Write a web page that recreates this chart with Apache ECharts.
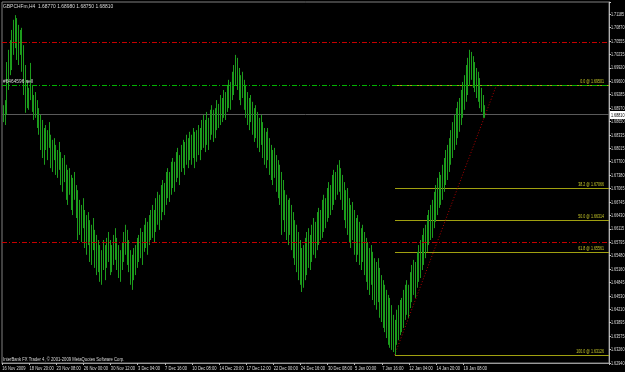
<!DOCTYPE html>
<html><head><meta charset="utf-8">
<script src="https://cdn.jsdelivr.net/npm/echarts/dist/echarts.min.js"></script>
<style>html,body{margin:0;padding:0;background:#000;}#c{width:625px;height:372px;}</style>
</head><body><div id="c"></div>
<script>
// ---- data (GBPCHF H4 bars: low / high) ----
const barLow = [1.6864,1.6857,1.6881,1.6940,1.6975,1.6987,1.7023,1.7039,1.7011,1.6999,
1.7023,1.6983,1.6928,1.6886,1.6897,1.6893,1.6916,1.6888,1.6869,1.6874,
1.6850,1.6834,1.6798,1.6779,1.6763,1.6798,1.6774,1.6803,1.6755,1.6746,
1.6774,1.6739,1.6732,1.6751,1.6715,1.6699,1.6722,1.6680,1.6668,1.6692,
1.6656,1.6644,1.6680,1.6637,1.6585,1.6597,1.6580,1.6613,1.6566,1.6550,
1.6573,1.6533,1.6526,1.6561,1.6519,1.6502,1.6509,1.6486,1.6479,1.6514,
1.6490,1.6519,1.6533,1.6502,1.6509,1.6526,1.6538,1.6514,1.6495,1.6486,
1.6514,1.6533,1.6550,1.6526,1.6509,1.6479,1.6467,1.6490,1.6502,1.6519,
1.6533,1.6542,1.6526,1.6557,1.6566,1.6550,1.6573,1.6585,1.6590,1.6580,
1.6604,1.6621,1.6609,1.6632,1.6651,1.6644,1.6668,1.6684,1.6675,1.6692,
1.6708,1.6699,1.6722,1.6732,1.6715,1.6746,1.6755,1.6739,1.6763,1.6755,
1.6774,1.6763,1.6779,1.6755,1.6770,1.6786,1.6774,1.6798,1.6803,1.6793,
1.6810,1.6798,1.6822,1.6834,1.6817,1.6826,1.6845,1.6850,1.6857,1.6864,
1.6874,1.6869,1.6888,1.6897,1.6893,1.6916,1.6928,1.6952,1.6940,1.6916,
1.6904,1.6921,1.6893,1.6874,1.6857,1.6845,1.6864,1.6834,1.6817,1.6826,
1.6803,1.6793,1.6810,1.6779,1.6763,1.6755,1.6774,1.6739,1.6727,1.6715,
1.6732,1.6699,1.6684,1.6668,1.6597,1.6632,1.6604,1.6585,1.6573,1.6597,
1.6561,1.6542,1.6526,1.6509,1.6490,1.6479,1.6462,1.6472,1.6490,1.6502,
1.6519,1.6514,1.6533,1.6550,1.6542,1.6561,1.6573,1.6585,1.6590,1.6604,
1.6613,1.6628,1.6637,1.6644,1.6656,1.6668,1.6680,1.6692,1.6699,1.6680,
1.6656,1.6632,1.6613,1.6597,1.6580,1.6566,1.6585,1.6550,1.6533,1.6550,
1.6526,1.6514,1.6533,1.6502,1.6486,1.6467,1.6455,1.6479,1.6443,1.6431,
1.6420,1.6438,1.6401,1.6391,1.6377,1.6367,1.6353,1.6337,1.6330,1.6325,
1.6320,1.6313,1.6337,1.6348,1.6360,1.6367,1.6377,1.6396,1.6408,1.6401,
1.6424,1.6438,1.6455,1.6448,1.6472,1.6486,1.6495,1.6514,1.6526,1.6542,
1.6557,1.6573,1.6585,1.6590,1.6613,1.6628,1.6644,1.6661,1.6668,1.6680,
1.6699,1.6715,1.6727,1.6746,1.6763,1.6779,1.6798,1.6810,1.6826,1.6841,
1.6857,1.6874,1.6893,1.6912,1.6928,1.6952,1.6964,1.6945,1.6935,1.6921,
1.6912,1.6897,1.6888,1.6874,1.6874];
const barHigh = [1.6904,1.6916,1.7006,1.7035,1.7058,1.7082,1.7106,1.7117,1.7110,1.7094,
1.7082,1.7087,1.7046,1.6999,1.6964,1.6945,1.7004,1.6952,1.6928,1.6935,
1.6916,1.6897,1.6881,1.6869,1.6850,1.6857,1.6845,1.6864,1.6834,1.6822,
1.6826,1.6810,1.6798,1.6817,1.6793,1.6779,1.6786,1.6763,1.6751,1.6755,
1.6739,1.6732,1.6746,1.6715,1.6703,1.6680,1.6668,1.6684,1.6656,1.6644,
1.6651,1.6632,1.6621,1.6637,1.6609,1.6597,1.6585,1.6573,1.6561,1.6585,
1.6573,1.6590,1.6604,1.6585,1.6573,1.6597,1.6613,1.6590,1.6573,1.6561,
1.6580,1.6604,1.6621,1.6609,1.6585,1.6561,1.6550,1.6566,1.6573,1.6590,
1.6597,1.6613,1.6604,1.6621,1.6637,1.6628,1.6644,1.6656,1.6668,1.6656,
1.6684,1.6699,1.6692,1.6715,1.6727,1.6720,1.6746,1.6755,1.6746,1.6770,
1.6779,1.6770,1.6793,1.6803,1.6786,1.6810,1.6822,1.6817,1.6834,1.6826,
1.6841,1.6834,1.6850,1.6841,1.6845,1.6857,1.6850,1.6869,1.6881,1.6869,
1.6888,1.6874,1.6893,1.6904,1.6893,1.6897,1.6916,1.6907,1.6928,1.6921,
1.6940,1.6935,1.6952,1.6964,1.6959,1.6983,1.6999,1.7023,1.7016,1.6992,
1.6975,1.6983,1.6964,1.6952,1.6935,1.6921,1.6928,1.6912,1.6897,1.6904,
1.6888,1.6874,1.6881,1.6864,1.6850,1.6841,1.6850,1.6826,1.6810,1.6798,
1.6803,1.6786,1.6774,1.6763,1.6746,1.6727,1.6703,1.6692,1.6680,1.6684,
1.6668,1.6651,1.6632,1.6621,1.6604,1.6585,1.6566,1.6573,1.6590,1.6604,
1.6613,1.6597,1.6621,1.6637,1.6628,1.6651,1.6661,1.6656,1.6680,1.6692,
1.6684,1.6708,1.6722,1.6715,1.6739,1.6751,1.6746,1.6763,1.6774,1.6755,
1.6739,1.6722,1.6703,1.6708,1.6684,1.6668,1.6675,1.6656,1.6637,1.6644,
1.6628,1.6613,1.6621,1.6604,1.6590,1.6580,1.6566,1.6573,1.6557,1.6542,
1.6533,1.6542,1.6519,1.6502,1.6490,1.6479,1.6467,1.6455,1.6448,1.6431,
1.6408,1.6396,1.6420,1.6431,1.6443,1.6448,1.6467,1.6479,1.6490,1.6479,
1.6509,1.6526,1.6538,1.6533,1.6557,1.6573,1.6585,1.6597,1.6613,1.6621,
1.6644,1.6656,1.6668,1.6680,1.6699,1.6715,1.6732,1.6746,1.6739,1.6763,
1.6779,1.6798,1.6810,1.6826,1.6845,1.6864,1.6881,1.6897,1.6912,1.6921,
1.6940,1.6959,1.6975,1.6999,1.7016,1.7035,1.7030,1.7020,1.7006,1.6992,
1.6983,1.6968,1.6945,1.6928,1.6904];
const totalSlots = 358;
const xTickLabels = ['16 Nov 2009','18 Nov 20:00','23 Nov 08:00','26 Nov 00:00','30 Nov 12:00','3 Dec 04:00','7 Dec 16:00','10 Dec 08:00','14 Dec 20:00','17 Dec 12:00','22 Dec 00:00','24 Dec 16:00','30 Dec 08:00','5 Jan 00:00','7 Jan 16:00','12 Jan 04:00','14 Jan 20:00','19 Jan 08:00'];
const xTickEvery = 16;
const yTickLabels = ['1.62940','1.63260','1.63575','1.63895','1.64210','1.64530','1.64845','1.65160','1.65480','1.65795','1.66115','1.66430','1.66745','1.67065','1.67380','1.67700','1.68015','1.68335','1.68650','1.68970','1.69285','1.69600','1.69920','1.70235','1.70555','1.70870','1.71185'];
const yMin = 1.6294, yStep = 0.003175, yMax = 1.71481;
const bidPrice = 1.68810;
const orderPrice = 1.69510, orderLabel = '#6464596 sell';
const stopLevels = [1.70511, 1.65791];
const fibStartIdx = 231, fibEndIdx = 291, fibLow = 1.63126, fibHigh = 1.69501;
const fibLevels = [0, 38.2, 50, 61.8, 100];
const headerText = 'GBPCHFm,H4  1.68770 1.68980 1.68750 1.68810';
const footerText = 'InterBank FX Trader 4, \u00a9 2001-2009 MetaQuotes Software Corp.';

// ---- chart ----
const FONT = "'Liberation Sans',Arial,sans-serif";
const categories = [];
for (let i = 0; i < totalSlots; i++) categories.push(i);
const barColor = '#1c9c1c';
const fibColor = '#a0a010';
const textColor = '#dcdcdc';
const DASHDOT = [5, 2, 1, 2];
const chart = echarts.init(document.getElementById('c'), null, {renderer: 'canvas'});
const fibValues = fibLevels.map(l => fibHigh - (l / 100) * (fibHigh - fibLow));
const showX = (i) => i % xTickEvery === 0 && i / xTickEvery < xTickLabels.length;
const snap = (v) => Math.round(v - 0.5) + 0.5;
// horizontal level lines: drawn from a start category (or the left edge) to the right edge of the plot
const levelSeries = (values, startIdx, stroke, dash, z) => ({
  type: 'custom', silent: true, z: z, clip: true,
  data: values.map(v => [startIdx == null ? 0 : startIdx, v]),
  encode: {x: 0, y: 1},
  renderItem: (params, api) => {
    const cs = params.coordSys;
    const p = api.coord([api.value(0), api.value(1)]);
    const y = snap(p[1]);
    const x1 = startIdx == null ? cs.x : Math.round(p[0]);
    return {type: 'line', shape: {x1: x1, y1: y, x2: cs.x + cs.width, y2: y},
      style: {stroke: stroke, lineWidth: 1, lineDash: dash || null, fill: null}};
  }
});
chart.setOption({
  backgroundColor: '#000',
  animation: false,
  grid: {left: 2, right: 16, top: 2, bottom: 9, show: true, borderColor: '#808080', borderWidth: 1, outerBoundsMode: 'none'},
  xAxis: {
    type: 'category', data: categories, boundaryGap: true,
    axisLine: {show: true, lineStyle: {color: '#9a9a9a'}},
    axisTick: {show: true, length: 2, lineStyle: {color: '#bbb'}, interval: showX},
    axisLabel: {show: false},
    splitLine: {show: false}
  },
  yAxis: {
    type: 'value', position: 'right', min: yMin, max: yMax, interval: yStep, scale: true,
    axisLine: {show: true, lineStyle: {color: '#b0b0b0'}},
    axisTick: {show: true, length: 2, lineStyle: {color: '#ccc'}},
    axisLabel: {show: false},
    splitLine: {show: false}
  },
  series: [
    levelSeries([bidPrice], null, '#5a5a5a', null, 2),
    levelSeries(fibValues, fibStartIdx, fibColor, null, 2),
    {
      type: 'custom', silent: true, z: 2,
      data: [[fibStartIdx, fibLow, fibEndIdx, fibHigh]],
      encode: {x: [0, 2], y: [1, 3]},
      renderItem: (params, api) => {
        const a = api.coord([api.value(0), api.value(1)]);
        const b = api.coord([api.value(2), api.value(3)]);
        return {type: 'line', shape: {x1: a[0], y1: a[1], x2: b[0], y2: b[1]},
          style: {stroke: '#b00000', lineWidth: 1, lineDash: [1, 2], fill: null}};
      }
    },
    {
      type: 'custom', name: 'GBPCHF', z: 3,
      data: barLow.map((l, i) => [i, l, barHigh[i]]),
      encode: {x: 0, y: [1, 2]},
      renderItem: (params, api) => {
        const i = api.value(0);
        const lo = api.coord([i, api.value(1)]);
        const hi = api.coord([i, api.value(2)]);
        const x = Math.round(lo[0]) + 0.5;
        return {type: 'line', shape: {x1: x, y1: lo[1], x2: x, y2: hi[1]}, style: {stroke: barColor, lineWidth: 1, fill: null}};
      }
    },
    levelSeries(stopLevels, null, '#c80000', DASHDOT, 4),
    levelSeries([orderPrice], null, '#00b400', DASHDOT, 4)
  ]
});

// ---- text labels, positioned through the chart's own scales ----
const txt = (text, x, y, opt) => Object.assign({type: 'text', x: x, y: y, silent: true, z: 10,
  style: Object.assign({text: text, fill: textColor, fontSize: 6, fontFamily: FONT, align: 'left', verticalAlign: 'middle'}, opt.style || {})},
  opt.scaleX ? {scaleX: opt.scaleX} : {});
const g = [];
yTickLabels.forEach((t, k) => {
  const y = chart.convertToPixel({yAxisIndex: 0}, yMin + k * yStep);
  g.push(txt(t, 611, y, {scaleX: 0.62}));
});
xTickLabels.forEach((t, k) => {
  const x = chart.convertToPixel({xAxisIndex: 0}, k * xTickEvery);
  g.push(txt(t, x - 0.5, 368, {scaleX: 0.68}));
});
fibLevels.forEach((l, k) => {
  const y = chart.convertToPixel({yAxisIndex: 0}, fibValues[k]);
  g.push(txt(l.toFixed(1) + ' @ ' + fibValues[k].toFixed(5), 604, y - 1, {scaleX: 0.6, style: {fill: '#c8c828', align: 'right', verticalAlign: 'bottom'}}));
});
const oy = chart.convertToPixel({yAxisIndex: 0}, orderPrice);
g.push(txt(orderLabel, 3, oy - 3.5, {scaleX: 0.8}));
const by = chart.convertToPixel({yAxisIndex: 0}, bidPrice);
g.push({type: 'rect', x: 610, y: Math.round(by) - 4, shape: {x: 0, y: 0, width: 15, height: 8}, style: {fill: '#ffffff'}, z: 9, silent: true});
g.push(txt(bidPrice.toFixed(5), 611, Math.round(by), {scaleX: 0.62, style: {fill: '#000'}}));
g.push(txt(headerText, 3, 6, {scaleX: 0.82}));
g.push(txt(footerText, 3, 359, {scaleX: 0.7}));
chart.setOption({graphic: g});
</script></body></html>
